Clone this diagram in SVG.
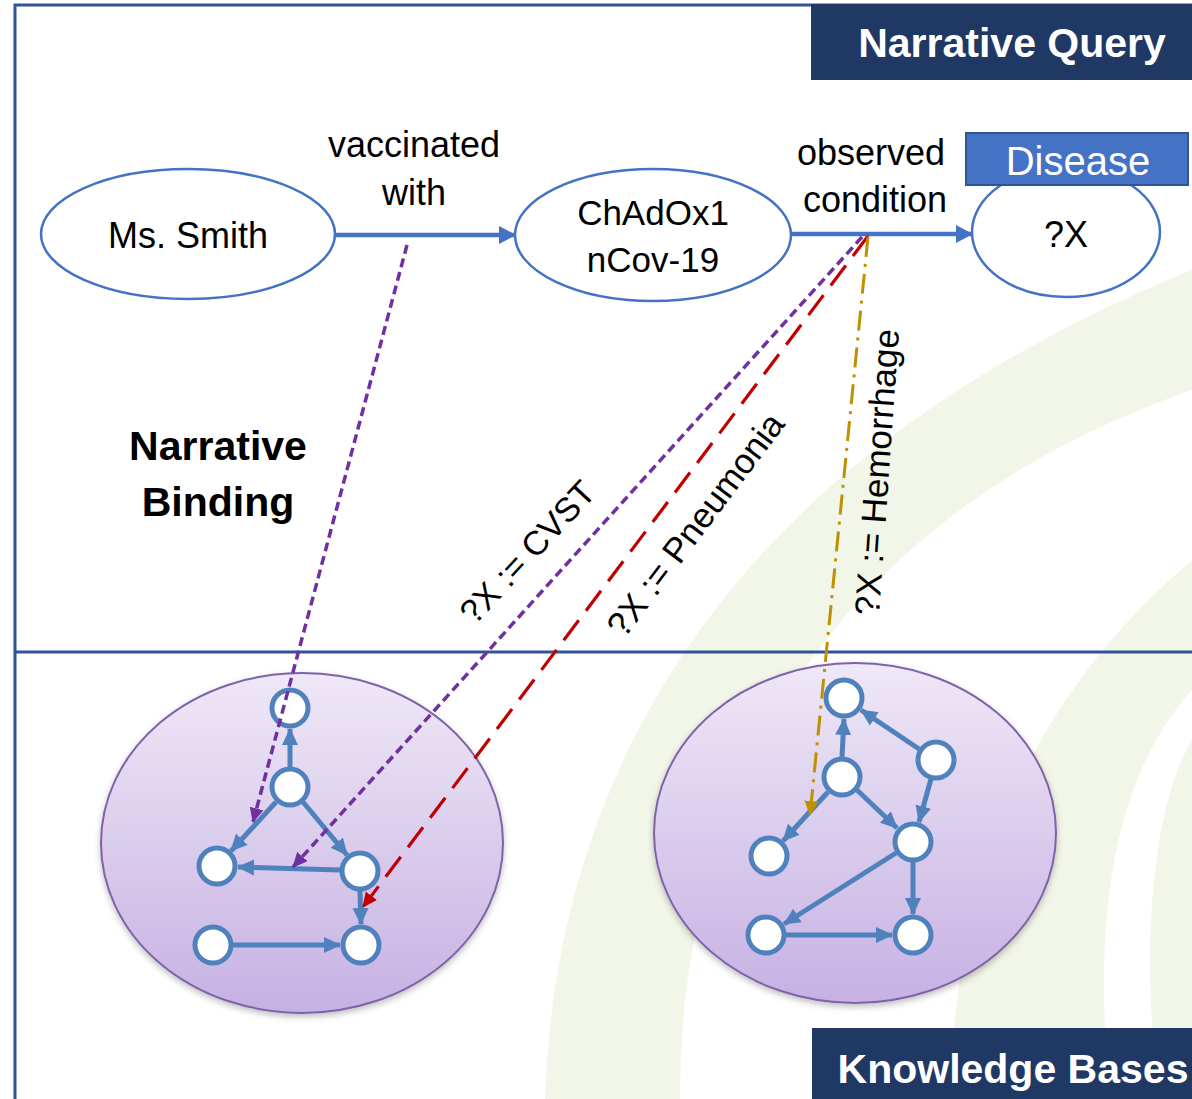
<svg xmlns="http://www.w3.org/2000/svg" width="1192" height="1099" viewBox="0 0 1192 1099">
<style>
.t{font-family:"Liberation Sans",Arial,sans-serif;fill:#000}
.hdr{font-family:"Liberation Sans",Arial,sans-serif;font-weight:bold;fill:#fff;font-size:41px}
.qn{fill:#fff;stroke:#4472C4;stroke-width:2.5}
.kb{fill:url(#kbg);stroke:#7F62A8;stroke-width:2}
.gn{fill:#fff;stroke:#4F81BD;stroke-width:5}
.ge{stroke:#4F81BD;stroke-width:5;fill:none;marker-end:url(#ga)}
.qe{stroke:#4472C4;stroke-width:4.5;fill:none;marker-end:url(#qa)}
.bg{fill:#EEF3E0;opacity:0.75}
</style>
<defs>
<linearGradient id="kbg" x1="0" y1="0" x2="0" y2="1">
<stop offset="0" stop-color="#EFE8F7"/>
<stop offset="1" stop-color="#C6B1E3"/>
</linearGradient>
<filter id="sh" x="-10%" y="-10%" width="120%" height="125%">
<feDropShadow dx="0" dy="3" stdDeviation="3" flood-color="#000" flood-opacity="0.25"/>
</filter>
<marker id="ga" markerUnits="userSpaceOnUse" markerWidth="18" markerHeight="18" refX="16" refY="9" orient="auto">
<path d="M0,1 L17,9 L0,17 Z" fill="#4F81BD"/>
</marker>
<marker id="qa" markerUnits="userSpaceOnUse" markerWidth="18" markerHeight="18" refX="16" refY="9" orient="auto">
<path d="M0,0 L17,9 L0,18 Z" fill="#4472C4"/>
</marker>
<marker id="pa" markerUnits="userSpaceOnUse" markerWidth="16" markerHeight="16" refX="14" refY="7" orient="auto">
<path d="M0,0 L15,7 L0,14 Z" fill="#7030A0"/>
</marker>
<marker id="ra" markerUnits="userSpaceOnUse" markerWidth="16" markerHeight="16" refX="14" refY="7" orient="auto">
<path d="M0,0 L15,7 L0,14 Z" fill="#C00000"/>
</marker>
<marker id="ya" markerUnits="userSpaceOnUse" markerWidth="16" markerHeight="16" refX="14" refY="7" orient="auto">
<path d="M0,0 L15,7 L0,14 Z" fill="#BF9000"/>
</marker>
</defs>

<rect x="0" y="0" width="1192" height="1099" fill="#fff"/>

<g id="background">
<path class="bg" d="M545 1099 C555 800 700 470 1192 270 L1192 390 C820 520 680 800 680 1099 Z"/>
<path class="bg" d="M950 1099 C955 860 1040 690 1192 560 L1192 690 C1120 770 1090 900 1110 1099 Z"/>
<path class="bg" d="M1192 740 C1150 810 1140 960 1160 1099 L1192 1099 Z"/>
</g>

<g id="frame" fill="none" stroke="#2F5597" stroke-width="3">
<path d="M15 1099 L15 5 L1192 5"/>
<path d="M15 652 L1192 652"/>
</g>

<g id="title-query">
<rect x="811" y="4" width="381" height="76" fill="#203864"/>
<text class="hdr" x="1012" y="57" text-anchor="middle">Narrative Query</text>
</g>
<g id="title-kb">
<rect x="812" y="1028" width="380" height="71" fill="#203864"/>
<text class="hdr" x="1013" y="1083" text-anchor="middle">Knowledge Bases</text>
</g>

<g id="label-binding">
<text class="t" x="218" y="460" text-anchor="middle" font-size="41" font-weight="bold">Narrative</text>
<text class="t" x="218" y="516" text-anchor="middle" font-size="41" font-weight="bold">Binding</text>
</g>

<g id="query-edges">
<line class="qe" x1="336" y1="235" x2="515" y2="235"/>
<line class="qe" x1="792" y1="234" x2="972" y2="234"/>
<text class="t" x="414" y="157" text-anchor="middle" font-size="36">vaccinated</text>
<text class="t" x="414" y="205" text-anchor="middle" font-size="36">with</text>
<text class="t" x="871" y="165" text-anchor="middle" font-size="36">observed</text>
<text class="t" x="875" y="212" text-anchor="middle" font-size="36">condition</text>
</g>

<g id="node-smith">
<ellipse class="qn" cx="188" cy="234" rx="147" ry="65"/>
<text class="t" x="188" y="248" text-anchor="middle" font-size="36">Ms. Smith</text>
</g>
<g id="node-vaccine">
<ellipse class="qn" cx="653" cy="235" rx="138" ry="66"/>
<text class="t" x="653" y="225" text-anchor="middle" font-size="35">ChAdOx1</text>
<text class="t" x="653" y="272" text-anchor="middle" font-size="35">nCov-19</text>
</g>
<g id="node-x">
<ellipse class="qn" cx="1066" cy="232" rx="94" ry="65"/>
<text class="t" x="1066" y="247" text-anchor="middle" font-size="36">?X</text>
</g>
<g id="type-disease">
<rect x="966" y="133" width="222" height="52" fill="#4472C4" stroke="#2F5597" stroke-width="2"/>
<text x="1078" y="175" text-anchor="middle" font-size="40" fill="#fff" font-family="Liberation Sans, Arial, sans-serif">Disease</text>
</g>

<g id="kb1">
<ellipse class="kb" cx="302" cy="843" rx="201" ry="170" filter="url(#sh)"/>
<g id="kb1-edges">
<line class="ge" x1="290" y1="767" x2="290" y2="729"/>
<line class="ge" x1="276" y1="802" x2="231" y2="851"/>
<line class="ge" x1="303" y1="802" x2="347" y2="855"/>
<line class="ge" x1="340" y1="870" x2="238" y2="867"/>
<line class="ge" x1="360" y1="891" x2="361" y2="924"/>
<line class="ge" x1="233" y1="945" x2="340" y2="945"/>
</g>
<circle class="gn" cx="290" cy="708" r="18"/>
<circle class="gn" cx="290" cy="787" r="18"/>
<circle class="gn" cx="217" cy="866" r="18"/>
<circle class="gn" cx="360" cy="871" r="18"/>
<circle class="gn" cx="213" cy="945" r="18"/>
<circle class="gn" cx="361" cy="945" r="18"/>
</g>

<g id="kb2">
<ellipse class="kb" cx="855" cy="833" rx="201" ry="170" filter="url(#sh)"/>
<g id="kb2-edges">
<line class="ge" x1="842" y1="757" x2="844" y2="719"/>
<line class="ge" x1="919" y1="749" x2="861" y2="710"/>
<line class="ge" x1="828" y1="792" x2="783" y2="841"/>
<line class="ge" x1="857" y1="790" x2="897" y2="828"/>
<line class="ge" x1="931" y1="779" x2="919" y2="822"/>
<line class="ge" x1="896" y1="853" x2="784" y2="924"/>
<line class="ge" x1="913" y1="862" x2="913" y2="914"/>
<line class="ge" x1="786" y1="935" x2="892" y2="935"/>
</g>
<circle class="gn" cx="844" cy="698" r="18"/>
<circle class="gn" cx="842" cy="777" r="18"/>
<circle class="gn" cx="936" cy="760" r="18"/>
<circle class="gn" cx="769" cy="856" r="18"/>
<circle class="gn" cx="913" cy="842" r="18"/>
<circle class="gn" cx="766" cy="935" r="18"/>
<circle class="gn" cx="913" cy="935" r="18"/>
</g>

<g id="bindings" fill="none">
<line x1="407" y1="245" x2="253" y2="822" stroke="#7030A0" stroke-width="3.5" stroke-dasharray="9 5" marker-end="url(#pa)"/>
<line x1="862" y1="237" x2="293" y2="867" stroke="#7030A0" stroke-width="3.5" stroke-dasharray="9 5" marker-end="url(#pa)"/>
<line x1="868" y1="236" x2="363" y2="907" stroke="#C00000" stroke-width="3.2" stroke-dasharray="25 12" marker-end="url(#ra)"/>
<line x1="868" y1="237" x2="810" y2="815" stroke="#BF9000" stroke-width="3" stroke-dasharray="20 7 3 7" marker-end="url(#ya)"/>
<text class="t" font-size="34" text-anchor="middle" transform="translate(536,560) rotate(-47)">?X := CVST</text>
<text class="t" font-size="35" text-anchor="middle" transform="translate(705,532) rotate(-53)">?X := Pneumonia</text>
<text class="t" font-size="35" text-anchor="middle" transform="translate(889,473) rotate(-86)">?X := Hemorrhage</text>
</g>
</svg>
